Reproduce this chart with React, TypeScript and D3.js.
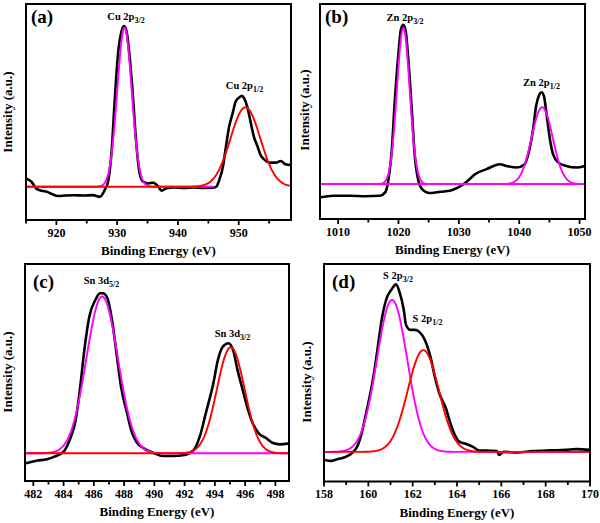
import React from "react";
import * as d3 from "d3";

// ---------- Panel (a): Cu 2p ----------
const cuEnergy = [915, 915.9, 916.8, 917.6, 918.5, 919.3, 920.3, 921.5, 923, 924.5, 926, 927.2, 928, 928.5, 929.1, 929.6, 930.1, 930.7, 931.1, 931.5, 932, 932.6, 933.1, 933.7, 934.3, 935.1, 935.9, 936.8, 937.3, 938.1, 939.5, 941, 942.5, 944, 945.8, 946.3, 946.8, 947.4, 947.9, 948.4, 949, 949.5, 950.1, 950.5, 950.9, 951.4, 952, 952.5, 953.1, 953.6, 954.2, 955, 956.1, 956.9, 957.7, 958.5];
const cuIntensity = [5.2, 3.1, -1.5, -2.5, -3.2, -4.6, -5.8, -5.5, -5.3, -5.5, -5.2, -6.2, -1.6, 3.1, 22.8, 54, 81, 96.5, 100, 97.5, 83, 56, 29, 8.3, 3.1, 2.1, 2.5, 0, -2.5, -1, -0.4, -0.8, -0.5, -0.7, -0.6, 0, 4.2, 12.4, 25, 37, 45.7, 53, 55.6, 56.6, 55, 49.8, 39.5, 31, 25, 19.7, 17, 15, 15, 16, 14, 13.5];
const cuPeakCenters = [931.2, 951.1];
const cuPeakHeights = [99, 49.4];
const cuPeakFwhm = [2.8, 5.8];
const cuPeakRanges: [number, number][] = [[915, 946], [915, 958.6]];
const cuPeakNames = ["Cu 2p", "Cu 2p"];
const cuPeakSubs = ["3/2", "1/2"];
const cuTicks = [920, 930, 940, 950];
const cuMinorTicks = [915, 925, 935, 945, 955];

// ---------- Panel (b): Zn 2p ----------
const znEnergy = [1007.1, 1009.2, 1012, 1014.5, 1016.9, 1017.8, 1018.3, 1018.9, 1019.4, 1020, 1020.4, 1020.8, 1021.2, 1021.6, 1022.2, 1022.7, 1023.3, 1023.9, 1024.7, 1025.5, 1026.9, 1028.5, 1029.9, 1031.3, 1032.7, 1034.6, 1036.8, 1037.9, 1039.6, 1040.9, 1041.7, 1042.3, 1042.8, 1043.3, 1043.7, 1044.1, 1044.5, 1045.1, 1045.6, 1046.5, 1047.8, 1049.5, 1050.9];
const znIntensity = [-8.3, -7.3, -7.3, -7.6, -7.3, -5.2, 2, 21.9, 53, 82.3, 97, 100, 96, 80, 47, 17.7, 2, -3.1, -5.2, -5.6, -4.8, -4.2, -2.1, 1.5, 6.3, 9.4, 12.5, 11.4, 10.4, 12.5, 21.9, 34.4, 49, 56, 57.7, 55.2, 44.8, 28, 18.8, 13.5, 11.4, 10.4, 11.4];
const znPeakCenters = [1020.8, 1043.8];
const znPeakHeights = [98, 48.3];
const znPeakFwhm = [2.5, 4.1];
const znPeakRanges: [number, number][] = [[1007, 1050.9], [1007, 1050.9]];
const znPeakNames = ["Zn 2p", "Zn 2p"];
const znPeakSubs = ["3/2", "1/2"];
const znTicks = [1010, 1020, 1030, 1040, 1050];
const znMinorTicks = [1015, 1025, 1035, 1045];

// ---------- Panel (c): Sn 3d ----------
const snEnergy = [481.5, 482.2, 482.9, 483.4, 484, 484.4, 484.8, 485.1, 485.4, 485.7, 486.1, 486.4, 486.6, 486.9, 487.2, 487.5, 487.8, 488.2, 488.5, 488.8, 489.3, 489.9, 490.6, 491.2, 492, 492.6, 493, 493.4, 493.9, 494.2, 494.5, 494.9, 495.2, 495.5, 495.9, 496.2, 496.5, 496.9, 497.4, 497.8, 498.3, 498.9];
const snIntensity = [-6.25, -4.6, -3.75, -2.1, 1, 8.3, 20.8, 41.6, 66.6, 85.4, 95.8, 100, 100, 96.9, 83.3, 62.5, 41.6, 25, 13.5, 7.3, 3.1, 0.4, -1.7, -1.7, -1, 2, 10.4, 25, 43.8, 58.3, 66.3, 68.8, 64.6, 52, 37.5, 27, 18.8, 12.5, 9.4, 6.6, 5.6, 6.2];
const snPeakCenters = [486.55, 495.05];
const snPeakHeights = [98, 66.3];
const snPeakFwhm = [2.45, 2.15];
const snPeakRanges: [number, number][] = [[481.45, 498.9], [481.45, 498.9]];
const snPeakNames = ["Sn 3d", "Sn 3d"];
const snPeakSubs = ["5/2", "3/2"];
const snTicks = [482, 484, 486, 488, 490, 492, 494, 496, 498];
const snMinorTicks = [483, 485, 487, 489, 491, 493, 495, 497];

// ---------- Panel (d): S 2p ----------
const sEnergy = [158.05, 158.3, 158.6, 158.8, 159, 159.25, 159.5, 159.7, 159.9, 160.15, 160.3, 160.45, 160.6, 160.8, 161.05, 161.25, 161.4, 161.6, 161.7, 161.9, 162.1, 162.3, 162.55, 162.8, 163, 163.2, 163.5, 163.7, 163.9, 164.1, 164.4, 164.7, 165, 165.3, 165.8, 165.9, 166.1, 166.7, 167.4, 168.2, 168.9, 169.4, 170];
const sIntensity = [-5.3, -5.9, -4.8, -4.2, -3.1, -0.9, 3.5, 12.3, 25.5, 43, 56, 71.5, 86.8, 100, 107, 110.3, 105.5, 93.4, 83.6, 80.3, 80.3, 79, 73.7, 62.7, 49.5, 38.6, 28.7, 18.9, 11.2, 6.8, 5.3, 3.5, 0.9, 0.9, 0.5, -2, 0, -0.4, 0.5, 1, 1.3, 1.8, 1.3];
const sPeakCenters = [161.07, 162.48];
const sPeakHeights = [100, 67];
const sPeakFwhm = [1.62, 1.65];
const sPeakRanges: [number, number][] = [[158, 170], [158, 170]];
const sPeakNames = ["S 2p", "S 2p"];
const sPeakSubs = ["3/2", "1/2"];
const sTicks = [158, 160, 162, 164, 166, 168, 170];
const sMinorTicks = [159, 161, 163, 165, 167, 169];

const MAGENTA = "#ff00ff";
const RED = "#ff0000";
const FONT = "'Liberation Serif', 'Times New Roman', serif";

type PanelDef = {
  id: string;
  letter: string;
  energy: number[];
  intensity: number[];
  centers: number[];
  heights: number[];
  fwhm: number[];
  ranges: [number, number][];
  names: string[];
  subs: string[];
  ticks: number[];
  minor: number[];
  box: { left: number; right: number; top: number; bottom: number };
  xDomain: [number, number];
  yDomain: [number, number];
  fitColors: string[];
  redBaseline: boolean;
  labelPos: [number, number][];
  letterPos: [number, number];
  yTitle: [number, number];
};

const panels: PanelDef[] = [
  {
    id: "a", letter: "(a)", energy: cuEnergy, intensity: cuIntensity,
    centers: cuPeakCenters, heights: cuPeakHeights, fwhm: cuPeakFwhm, ranges: cuPeakRanges,
    names: cuPeakNames, subs: cuPeakSubs, ticks: cuTicks, minor: cuMinorTicks,
    box: { left: 26, right: 291, top: 4, bottom: 220 },
    xDomain: [915, 958.6], yDomain: [-20.7, 113.7], fitColors: [MAGENTA, RED], redBaseline: false,
    labelPos: [[126, 20], [244.5, 89]], letterPos: [31, 23], yTitle: [12, 112],
  },
  {
    id: "b", letter: "(b)", energy: znEnergy, intensity: znIntensity,
    centers: znPeakCenters, heights: znPeakHeights, fwhm: znPeakFwhm, ranges: znPeakRanges,
    names: znPeakNames, subs: znPeakSubs, ticks: znTicks, minor: znMinorTicks,
    box: { left: 320, right: 585, top: 4, bottom: 219 },
    xDomain: [1007, 1050.9], yDomain: [-21.9, 113.1], fitColors: [MAGENTA, MAGENTA], redBaseline: true,
    labelPos: [[405, 21], [541.5, 86]], letterPos: [325, 23], yTitle: [309, 110],
  },
  {
    id: "c", letter: "(c)", energy: snEnergy, intensity: snIntensity,
    centers: snPeakCenters, heights: snPeakHeights, fwhm: snPeakFwhm, ranges: snPeakRanges,
    names: snPeakNames, subs: snPeakSubs, ticks: snTicks, minor: snMinorTicks,
    box: { left: 25, right: 289, top: 264, bottom: 481 },
    xDomain: [481.45, 498.9], yDomain: [-17.3, 118.3], fitColors: [MAGENTA, RED], redBaseline: false,
    labelPos: [[101.5, 284], [232.5, 337]], letterPos: [33, 288], yTitle: [12, 372],
  },
  {
    id: "d", letter: "(d)", energy: sEnergy, intensity: sIntensity,
    centers: sPeakCenters, heights: sPeakHeights, fwhm: sPeakFwhm, ranges: sPeakRanges,
    names: sPeakNames, subs: sPeakSubs, ticks: sTicks, minor: sMinorTicks,
    box: { left: 324, right: 590, top: 264, bottom: 481.5 },
    xDomain: [158, 170], yDomain: [-19.5, 123.7], fitColors: [MAGENTA, RED], redBaseline: false,
    labelPos: [[398, 279], [427.5, 322]], letterPos: [332, 288], yTitle: [311, 382],
  },
];

function Panel({ p }: { p: PanelDef }) {
  const { left, right, top, bottom } = p.box;
  const x = d3.scaleLinear().domain(p.xDomain).range([left, right]);
  const y = d3.scaleLinear().domain(p.yDomain).range([bottom, top]);
  const line = d3
    .line<[number, number]>()
    .x((d) => x(d[0]))
    .y((d) => y(d[1]))
    .curve(d3.curveMonotoneX);
  const raw: [number, number][] = p.energy.map((e, i) => [e, p.intensity[i]]);
  const fits = p.centers.map((c, i) => {
    const [lo, hi] = p.ranges[i];
    const step = (hi - lo) / 400;
    return d3
      .range(lo, hi + step / 2, step)
      .map((e) => [e, p.heights[i] * Math.exp((-4 * Math.LN2 * (e - c) ** 2) / (p.fwhm[i] * p.fwhm[i]))] as [number, number]);
  });
  const clipId = `clip-${p.id}`;
  const cx = (left + right) / 2;
  return (
    <g>
      <defs>
        <clipPath id={clipId}>
          <rect x={left} y={top} width={right - left} height={bottom - top} />
        </clipPath>
      </defs>
      <g clipPath={`url(#${clipId})`}>
        <path d={line(raw) || ""} fill="none" stroke="#000" strokeWidth={2.6} strokeLinejoin="round" />
        {p.redBaseline && (
          <line x1={x(p.xDomain[0])} x2={x(p.xDomain[1])} y1={y(0)} y2={y(0)} stroke={RED} strokeWidth={1.9} />
        )}
        {fits.map((f, i) => (
          <path key={i} d={line(f) || ""} fill="none" stroke={p.fitColors[i]} strokeWidth={1.9} />
        ))}
      </g>
      <rect x={left} y={top} width={right - left} height={bottom - top} fill="none" stroke="#000" strokeWidth={2} />
      {p.ticks.map((t) => (
        <g key={`t${t}`}>
          <line x1={x(t)} x2={x(t)} y1={bottom} y2={bottom + 5} stroke="#000" strokeWidth={1.8} />
          <text x={x(t)} y={bottom + 16.5} textAnchor="middle" fontSize={12} fontWeight="bold" fontFamily={FONT}>
            {t}
          </text>
        </g>
      ))}
      {p.minor.map((t) => (
        <line key={`m${t}`} x1={x(t)} x2={x(t)} y1={bottom} y2={bottom + 3.5} stroke="#000" strokeWidth={1.8} />
      ))}
      <text x={cx} y={bottom + 35} textAnchor="middle" fontSize={13} fontWeight="bold" fontFamily={FONT}>
        Binding Energy (eV)
      </text>
      <text
        transform={`translate(${p.yTitle[0]},${p.yTitle[1]}) rotate(-90)`}
        textAnchor="middle"
        fontSize={13}
        fontWeight="bold"
        fontFamily={FONT}
      >
        Intensity (a.u.)
      </text>
      <text x={p.letterPos[0]} y={p.letterPos[1]} fontSize={19} fontWeight="bold" fontFamily={FONT}>
        {p.letter}
      </text>
      {p.names.map((n, i) => (
        <text key={`l${i}`} x={p.labelPos[i][0]} y={p.labelPos[i][1]} textAnchor="middle" fontSize={10.5} fontWeight="bold" fontFamily={FONT}>
          {n}
          <tspan dy={2.5} fontSize={8}>{p.subs[i]}</tspan>
        </text>
      ))}
    </g>
  );
}

export default function App() {
  return (
    <svg
      width={600}
      height={523}
      viewBox="0 0 600 523"
      style={{ position: "absolute", left: 0, top: 0, background: "#fff" }}
    >
      <rect x={0} y={0} width={600} height={523} fill="#fff" />
      {panels.map((p) => (
        <Panel key={p.id} p={p} />
      ))}
    </svg>
  );
}
